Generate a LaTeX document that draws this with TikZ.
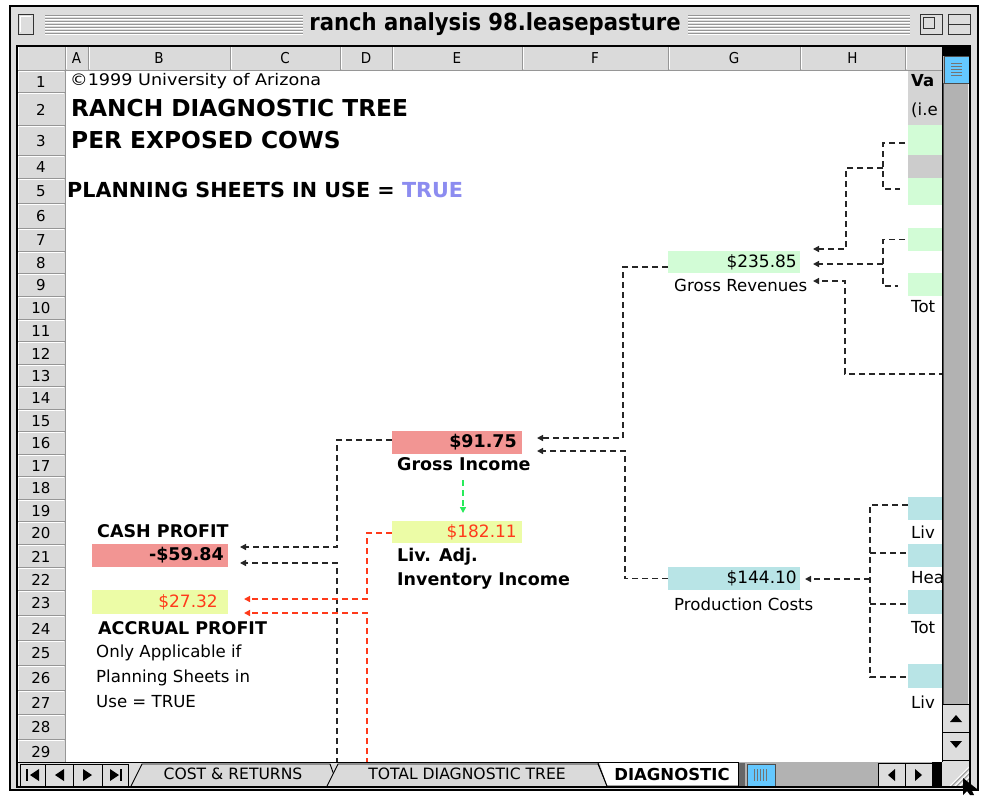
\documentclass[tikz,border=0pt]{standalone}
\usepackage{fontspec}
\setmainfont{DejaVu Sans}
\newfontfamily\condf{DejaVu Sans Condensed}
\usetikzlibrary{arrows.meta,calc}
\definecolor{salmon}{RGB}{242,149,147}
\definecolor{paleyel}{RGB}{236,252,166}
\definecolor{mint}{RGB}{210,252,214}
\definecolor{palecyan}{RGB}{184,228,230}
\definecolor{hdrgray}{RGB}{218,218,218}
\definecolor{framegray}{RGB}{221,221,221}
\definecolor{redtxt}{RGB}{255,58,26}
\definecolor{greenarr}{RGB}{40,235,90}
\definecolor{truecol}{RGB}{140,140,240}
\definecolor{thumbblue}{RGB}{100,200,255}
\definecolor{trackgray}{RGB}{178,178,178}
\definecolor{cellgray}{RGB}{204,204,204}
\definecolor{lightcell}{RGB}{212,212,212}
\definecolor{sepgray}{RGB}{150,150,150}
\newcommand{\hstretch}[2]{\scalebox{#1}[1]{#2}}
\begin{document}
\begin{tikzpicture}[x=1pt,y=-1pt,
  cellbox/.style={draw=none,inner sep=0pt,outer sep=0pt,anchor=north west},
  valtxt/.style={anchor=east,inner sep=0pt,font=\fontsize{17}{20}\selectfont},
  bvaltxt/.style={anchor=east,inner sep=0pt,font=\bfseries\fontsize{17.5}{20}\selectfont},
  lbl/.style={anchor=west,inner sep=0pt,font=\fontsize{16.6}{19}\selectfont},
  blbl/.style={anchor=west,inner sep=0pt,font=\bfseries\fontsize{17.5}{20}\selectfont},
  hdrtxt/.style={inner sep=0pt,font=\condf\fontsize{15}{18}\selectfont},
  rowtxt/.style={inner sep=0pt,font=\fontsize{15}{18}\selectfont},
  dl/.style={line width=1.4pt,dash pattern=on 6pt off 4pt,draw=black!85},
  dlred/.style={line width=1.4pt,dash pattern=on 6pt off 4pt,draw=redtxt},
  dlgreen/.style={line width=1.4pt,dash pattern=on 6pt off 4pt,draw=greenarr},
  arr/.style={-{Triangle[length=6pt,width=6pt]}},
  tabtxt/.style={inner sep=0pt,font=\fontsize{15.6}{18}\selectfont},
  btn/.style={fill=framegray,draw=black,line width=0.8pt}
]
\useasboundingbox (0,0) rectangle (984,795);
\fill[white] (0,0) rectangle (984,795);

% ---------- window frame ----------
\draw[black,line width=1.5pt,fill=framegray] (10,6) rectangle (978,790);
\foreach \yy in {15,18,21,24,27,30,33}{
  \draw[sepgray,line width=0.9pt] (45,\yy) -- (303,\yy);
  \draw[white,line width=0.8pt] (45,\yy+1) -- (303,\yy+1);
  \draw[sepgray,line width=0.9pt] (688,\yy) -- (910,\yy);
  \draw[white,line width=0.8pt] (688,\yy+1) -- (910,\yy+1);
}
\node[inner sep=0pt,font=\condf\bfseries\fontsize{23.5}{27}\selectfont] (title) at (495,24) {ranch analysis 98.leasepasture};
% close box
\draw[black!80,line width=1pt,fill=framegray] (18,14) rectangle (33,34);
\draw[white,line width=1pt] (20,32) -- (20,16) -- (31,16);
% zoom box
\draw[black!80,line width=1pt,fill=framegray] (920,14) rectangle (942,34);
\draw[black!80,line width=1pt] (923,17) rectangle (934,28);
% collapse box
\draw[black!80,line width=1pt,fill=framegray] (948,14) rectangle (970,34);
\draw[black!80,line width=1pt] (948,24) -- (970,24);

% ---------- sheet area ----------
\fill[white] (17,46) rectangle (942,762);

% right-hand column I cells (partly hidden by scroll bar)
\node[cellbox,fill=lightcell,minimum width=37,minimum height=55] (i1) at (908,70) {};
\node[cellbox,fill=mint,minimum width=37,minimum height=30] (i3) at (908,125) {};
\node[cellbox,fill=cellgray,minimum width=37,minimum height=23] (i4) at (908,155) {};
\node[cellbox,fill=mint,minimum width=37,minimum height=27] (i5) at (908,178) {};
\node[cellbox,fill=mint,minimum width=37,minimum height=23] (i7) at (908,228) {};
\node[cellbox,fill=mint,minimum width=37,minimum height=23] (i9) at (908,273) {};
\node[cellbox,fill=palecyan,minimum width=37,minimum height=23] (i19) at (908,497) {};
\node[cellbox,fill=palecyan,minimum width=37,minimum height=23] (i21) at (908,544) {};
\node[cellbox,fill=palecyan,minimum width=37,minimum height=24] (i23) at (908,590) {};
\node[cellbox,fill=palecyan,minimum width=37,minimum height=24] (i26) at (908,664) {};
\node[anchor=west,inner sep=0pt,font=\bfseries\fontsize{16.5}{19}\selectfont] (iva) at (911,81) {Va};
\node[lbl] (iie) at (911,110) {(i.e};
\node[lbl] (itot1) at (911,307) {Tot};
\node[lbl] (iliv1) at (911,532) {Liv};
\node[lbl] (ihea) at (911,578) {Hea};
\node[lbl] (itot2) at (911,628) {Tot};
\node[lbl] (iliv2) at (911,702) {Liv};

% titles
\node[anchor=west,inner sep=0pt,font=\fontsize{16}{19}\selectfont] (copy) at (70,81) {\hstretch{1.1}{©1999 University of Arizona}};
\node[anchor=west,inner sep=0pt,font=\bfseries\fontsize{23.3}{27}\selectfont] (t1) at (71,108) {RANCH DIAGNOSTIC TREE};
\node[anchor=west,inner sep=0pt,font=\bfseries\fontsize{23.3}{27}\selectfont] (t2) at (71,140) {PER EXPOSED COWS};
\node[anchor=west,inner sep=0pt,font=\bfseries\fontsize{20.7}{24}\selectfont] (t3) at (67,190) {PLANNING SHEETS IN USE = \textcolor{truecol}{TRUE}};

% main cells
\node[cellbox,fill=salmon,minimum width=136,minimum height=23] (cp) at (92,544) {};
\node[cellbox,fill=paleyel,minimum width=136,minimum height=24] (ap) at (92,590) {};
\node[cellbox,fill=salmon,minimum width=130,minimum height=23] (gi) at (392,431) {};
\node[cellbox,fill=paleyel,minimum width=130,minimum height=22] (li) at (392,521) {};
\node[cellbox,fill=mint,minimum width=132,minimum height=22] (gr) at (668,251) {};
\node[cellbox,fill=palecyan,minimum width=132,minimum height=23] (pc) at (668,567) {};

\node[bvaltxt] (cpv) at ($(cp.east)+(-4,0)$) {-\$59.84};
\node[valtxt,text=redtxt] (apv) at ($(ap.east)+(-10,0)$) {\$27.32};
\node[bvaltxt] (giv) at ($(gi.east)+(-5,0)$) {\$91.75};
\node[valtxt,text=redtxt] (liv) at ($(li.east)+(-5,0)$) {\$182.11};
\node[valtxt] (grv) at ($(gr.east)+(-3,0)$) {\$235.85};
\node[valtxt] (pcv) at ($(pc.east)+(-3,0)$) {\$144.10};

% labels
\node[blbl] (cplab) at (97,531) {CASH PROFIT};
\node[blbl] (aplab) at (98,628) {ACCRUAL PROFIT};
\node[lbl] (note1) at (96,653) {Only Applicable if};
\node[lbl] (note2) at (96,678) {Planning Sheets in};
\node[lbl] (note3) at (96,702) {Use = TRUE};
\node[blbl] (gilab) at (397,464) {Gross Income};
\node[blbl] (lilab1) at (397,557) {Liv. Adj.};
\node[blbl] (lilab2) at (397,581) {Inventory Income};
\node[lbl] (grlab) at (674,285) {Gross Revenues};
\node[lbl] (pclab) at (674,604) {Production Costs};

% connector end coordinates
\coordinate (gr1) at ($(gr.east)+(13,-13)$);
\coordinate (gr2) at ($(gr.east)+(13,2)$);
\coordinate (gr3) at ($(gr.east)+(13,19)$);
\coordinate (gi1) at ($(gi.east)+(15,-4.5)$);
\coordinate (gi2) at ($(gi.east)+(15,8.5)$);
\coordinate (cp1) at ($(cp.east)+(12,-8.5)$);
\coordinate (cp2) at ($(cp.east)+(12,7.5)$);
\coordinate (ap1) at ($(ap.east)+(16,-3)$);
\coordinate (ap2) at ($(ap.east)+(16,11)$);
\coordinate (pcin) at ($(pc.east)+(5,0.5)$);
\coordinate (rt3) at (945,374);
\coordinate (bk) at (337,764);
\coordinate (rk) at (367,764);
\coordinate (j1) at (883,168);
\coordinate (j2) at (883,264);
\coordinate (j3) at (870,579);
\coordinate (gtop) at ($(li.north)+(6,-41)$);
\coordinate (gbot) at ($(li.north)+(6,-8)$);

% top-right brackets
\draw[dl] ($(i3.west)+(-3,3)$) -- (883,143) -- (883,189) -- ($(i5.west)+(-8,-2.5)$);
\draw[dl,arr] (j1) -- (846,168) |- (gr1);
\draw[dl] ($(i7.west)+(-3,0)$) -- (883,239.5) -- (883,286) -- ($(i9.west)+(-10,1.5)$);
\draw[dl,arr] (j2) -- (gr2);
\draw[dl,arr] (rt3) -- (845,374) |- (gr3);
% gross revenues / production costs to gross income
\draw[dl,arr] ($(gr.west)+(0,5)$) -- (623,267) |- (gi1);
\draw[dl,arr] (pc.west) -- (625,578.5) |- (gi2);
% production cost bracket
\draw[dl] ($(i19.west)+(0,-3.5)$) -- (870,505) -- (870,677) -- ($(i26.west)+(0,1)$);
\draw[dl] (870,553) -- ($(i21.west)+(0,-2.5)$);
\draw[dl] (870,604) -- ($(i23.west)+(0,2)$);
\draw[dl,arr] (j3) -- (pcin);
% gross income to liv adj (green)
\draw[dlgreen,arr] (gtop) -- (gbot);
% to cash profit
\draw[dl,arr] ($(gi.west)+(0,-2.5)$) -- (337,440) |- (cp1);
\draw[dl,arr] (bk) -- (337,563) -- (cp2);
% to accrual profit
\draw[dlred,arr] ($(li.west)+(0,1)$) -- (367,533) |- (ap1);
\draw[dlred,arr] (rk) -- (367,613) -- (ap2);

% ---------- headers ----------
\fill[hdrgray] (17,46) rectangle (942,70);
\fill[hdrgray] (17,70) rectangle (65,762);
\foreach \nm/\xa/\xb in {A/65/88,B/88/230,C/230/340,D/340/392,E/392/522,F/522/668,G/668/800,H/800/905}{
  \draw[sepgray,line width=1pt] (\xb,46) -- (\xb,70);
  \draw[white,line width=1pt] (\xb+1.5,47) -- (\xb+1.5,69);
  \node[hdrtxt] (col\nm) at ({(\xa+\xb)/2},58) {\nm};
}
\draw[sepgray,line width=1pt] (65,46) -- (65,762);
\draw[white,line width=1pt] (18.5,47) -- (18.5,762);
\draw[white,line width=1pt] (66.5,47) -- (66.5,69);
\draw[sepgray,line width=1pt] (17,70) -- (942,70);
\foreach \n/\ya/\yb in {1/70/92,2/92/125,3/125/155,4/155/178,5/178/203,6/203/228,7/228/251,8/251/273,9/273/296,10/296/319,11/319/341,12/341/364,13/364/386,14/386/409,15/409/431,16/431/454,17/454/476,18/476/499,19/499/521,20/521/544,21/544/567,22/567/590,23/590/615,24/615/640,25/640/665,26/665/690,27/690/714,28/714/739,29/739/764}{
  \draw[white,line width=1pt] (18,\ya+1.5) -- (64,\ya+1.5);
  \draw[sepgray,line width=1pt] (17,\yb) -- (65,\yb);
  \node[rowtxt] (row\n) at (41,{(\ya+\yb)/2+1}) {\n};
}

% ---------- vertical scroll bar ----------
\fill[black] (942,46) rectangle (970,56);
\fill[trackgray] (942,56) rectangle (970,704);
\draw[black!70,line width=1pt] (943.5,83) -- (943.5,704);
\draw[white!80!trackgray,line width=1pt] (968.5,83) -- (968.5,704);
\node[cellbox,fill=thumbblue,draw=black!70,line width=0.8pt,minimum width=25,minimum height=27] (vthumb) at (944,56) {};
\foreach \yy in {63,66,69,72,75}{\draw[black!55,line width=0.7pt] (951,\yy) -- (962,\yy);}
\draw[black,line width=1pt] (942,46) -- (942,762);
\node[cellbox,fill=framegray,draw=black,line width=0.8pt,minimum width=28,minimum height=28] (upbtn) at (942,704) {};
\node[cellbox,fill=framegray,draw=black,line width=0.8pt,minimum width=28,minimum height=28] (dnbtn) at (942,732) {};
\fill[black] (950,722) -- (962,722) -- (956,715) -- cycle;
\fill[black] (950,741) -- (962,741) -- (956,748) -- cycle;

% ---------- tab bar ----------
\fill[framegray] (17,762) rectangle (942,787);
\draw[black,line width=1.2pt] (17,762.5) -- (942,762.5);
\foreach \xa/\xb in {20/45,45/73,73/102,102/128}{
  \draw[btn] (\xa,764) rectangle (\xb,786);
}
\draw[black,line width=2pt] (27,769) -- (27,781);
\fill[black] (39,769) -- (39,781) -- (30,775) -- cycle;
\fill[black] (64,769) -- (64,781) -- (55,775) -- cycle;
\fill[black] (83,769) -- (83,781) -- (92,775) -- cycle;
\fill[black] (110,769) -- (110,781) -- (119,775) -- cycle;
\draw[black,line width=2pt] (121,769) -- (121,781);
\draw[black,line width=0.9pt,fill=hdrgray] (131,786) -- (142,764) -- (330,764) -- (338,786);
\node[tabtxt] (tab1) at (233,774) {COST \& RETURNS};
\draw[black,line width=0.9pt,fill=hdrgray] (327,786) -- (338,764) -- (598,764) -- (607,786);
\node[tabtxt] (tab2) at (467,774) {TOTAL DIAGNOSTIC TREE};
\fill[white] (600,763) -- (738,763) -- (738,786) -- (607,786) -- cycle;
\draw[black,line width=0.9pt] (598,763) -- (607,786) -- (738,786);
\node[inner sep=0pt,font=\bfseries\fontsize{16.5}{18}\selectfont] (tab3) at (672,774) {DIAGNOSTIC};
% horizontal scroll bar
\fill[trackgray] (738,762) rectangle (942,787);
\draw[black,line width=1pt] (738,762) -- (738,787);
\fill[black!60] (739,763) rectangle (745,786);
\node[cellbox,fill=thumbblue,draw=black!70,line width=0.8pt,minimum width=28,minimum height=22] (hthumb) at (747,764) {};
\foreach \xx in {754,757,760,763,766}{\draw[black!55,line width=0.7pt] (\xx,769) -- (\xx,781);}
\node[cellbox,fill=framegray,draw=black,line width=0.8pt,minimum width=27,minimum height=23] (lbtn) at (878,763.5) {};
\node[cellbox,fill=framegray,draw=black,line width=0.8pt,minimum width=27,minimum height=23] (rbtn) at (905,763.5) {};
\fill[black] (895,769) -- (895,781) -- (888,775) -- cycle;
\fill[black] (915,769) -- (915,781) -- (922,775) -- cycle;
\fill[black] (932,762) rectangle (942,787);
% resize grip
\fill[framegray] (942,762) rectangle (970,787);
\foreach \d in {0,5,10}{\draw[white,line width=1pt] (950+\d,786) -- (969,767+\d); \draw[sepgray,line width=1pt] (951+\d,787) -- (970,768+\d);}
% sheet border
\draw[black,line width=1.2pt] (17,46) rectangle (970,787);
\draw[black,line width=1pt] (970,46) -- (970,787);
% mouse pointer
\fill[black] (963,778) -- (963,795) -- (967,791) -- (970,795) -- (974,795) -- (971,789) -- (977,789) -- cycle;
\end{tikzpicture}
\end{document}
